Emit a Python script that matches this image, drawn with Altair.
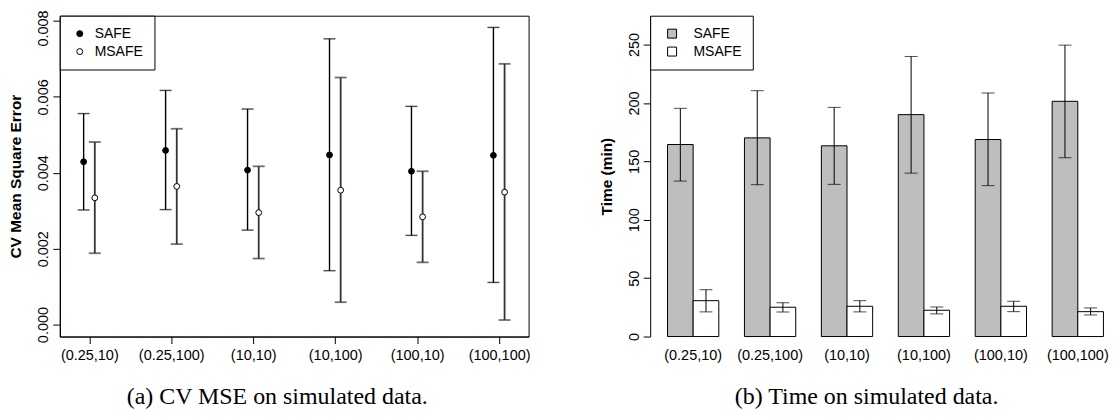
import altair as alt
import pandas as pd

# ---------------- data ----------------
cats = ["(0.25,10)", "(0.25,100)", "(10,10)", "(10,100)", "(100,10)", "(100,100)"]
series = ["SAFE", "MSAFE"]

# (a) CV mean square error: mean, lower, upper
mse_safe = [0.00429, 0.00459, 0.00407, 0.00447, 0.00404, 0.00446]
mse_safe_lo = [0.00302, 0.00303, 0.00249, 0.00142, 0.00235, 0.00111]
mse_safe_hi = [0.00556, 0.00617, 0.00568, 0.00753, 0.00575, 0.00783]
mse_msafe = [0.00334, 0.00364, 0.00295, 0.00354, 0.00284, 0.00349]
mse_msafe_lo = [0.00188, 0.00212, 0.00174, 0.00059, 0.00164, 0.00012]
mse_msafe_hi = [0.00481, 0.00516, 0.00417, 0.00651, 0.00404, 0.00687]

# (b) time in minutes: mean, lower, upper
time_safe = [164.4, 170.1, 163.3, 190.0, 168.7, 201.4]
time_safe_lo = [133.1, 130.0, 130.3, 139.9, 129.2, 153.1]
time_safe_hi = [195.4, 210.5, 196.2, 239.8, 208.5, 249.5]
time_msafe = [30.7, 25.1, 25.9, 22.5, 25.9, 21.3]
time_msafe_lo = [21.1, 21.1, 21.1, 19.4, 21.3, 18.5]
time_msafe_hi = [40.1, 29.0, 30.7, 25.3, 30.2, 24.5]

mse_ticks = [0.0, 0.002, 0.004, 0.006, 0.008]
time_ticks = [0, 50, 100, 150, 200, 250]


def frame(m1, l1, h1, m2, l2, h2):
    rows = []
    for i, c in enumerate(cats):
        rows.append({"cat": c, "series": "SAFE", "mean": m1[i], "lo": l1[i], "hi": h1[i]})
        rows.append({"cat": c, "series": "MSAFE", "mean": m2[i], "lo": l2[i], "hi": h2[i]})
    return pd.DataFrame(rows)


df_mse = frame(mse_safe, mse_safe_lo, mse_safe_hi, mse_msafe, mse_msafe_lo, mse_msafe_hi)
df_time = frame(time_safe, time_safe_lo, time_safe_hi, time_msafe, time_msafe_lo, time_msafe_hi)

FONT = "Liberation Sans"
CAPFONT = "Liberation Serif"
LBL = 14.5

# ---------------- panel (a) ----------------
xa = alt.X(
    "cat:N", sort=cats,
    scale=alt.Scale(type="point", padding=0.36),
    axis=alt.Axis(title=None, labelAngle=0, tickSize=7, labelPadding=5,
                  labelFontSize=LBL, labelOverlap=False),
)


def ya(field):
    return alt.Y(
        f"{field}:Q",
        scale=alt.Scale(domain=[-0.000315, 0.008139], nice=False, zero=False),
        axis=alt.Axis(title="CV Mean Square Error", values=mse_ticks, format=".3f",
                      labelAngle=-90, labelAlign="center", labelBaseline="bottom",
                      labelOffset={"condition": {"test": "datum.value > 0.0075", "value": 7},
                                   "value": 0},
                      tickSize=7, labelPadding=2, titlePadding=12),
    )


fill_a = alt.Fill(
    "series:N",
    scale=alt.Scale(domain=series, range=["black", "white"]),
    legend=alt.Legend(title=None, orient="top-left", offset=0, padding=11,
                      strokeColor="black", fillColor="white", symbolType="circle",
                      symbolSize=36, symbolStrokeColor="black", symbolStrokeWidth=1,
                      labelFontSize=14, rowPadding=4, symbolOffset=2, labelOffset=8),
)

base_a = alt.Chart(df_mse)
layers_a = []
for s, off, col, lw in [("SAFE", -5.7, "black", 1.4), ("MSAFE", 5.5, "#333333", 1.8)]:
    src = base_a.transform_filter(alt.datum.series == s)
    layers_a.append(src.mark_rule(color=col, strokeWidth=lw, xOffset=off)
                    .encode(x=xa, y=ya("lo"), y2="hi:Q"))
    layers_a.append(src.mark_tick(orient="horizontal", size=12, thickness=lw, color=col, xOffset=off)
                    .encode(x=xa, y=ya("lo")))
    layers_a.append(src.mark_tick(orient="horizontal", size=12, thickness=lw, color=col, xOffset=off)
                    .encode(x=xa, y=ya("hi")))
    layers_a.append(src.mark_circle(size=34, stroke="black", strokeWidth=1, opacity=1, xOffset=off)
                    .encode(x=xa, y=ya("mean"), fill=fill_a))

panel_a = alt.layer(*layers_a).properties(
    width=470.5, height=322,
    view=alt.ViewBackground(stroke="black", strokeWidth=1),
    title=alt.TitleParams("(a) CV MSE on simulated data.", orient="bottom", anchor="middle",
                          frame="group", font=CAPFONT, fontSize=24, fontWeight="normal",
                          color="black", offset=23, dx=-17),
)

# ---------------- panel (b) ----------------
xb = alt.X(
    "cat:N", sort=cats,
    scale=alt.Scale(type="band", paddingInner=1 / 3, paddingOuter=0.136, align=0.829),
    axis=alt.Axis(title=None, labelAngle=0, domain=False, tickColor="transparent",
                  tickSize=7, labelPadding=5, labelFontSize=LBL, labelOverlap=False),
)
xob = alt.XOffset("series:N", sort=series,
                  scale=alt.Scale(domain=series, paddingInner=0, paddingOuter=0))


def yb(field):
    return alt.Y(
        f"{field}:Q",
        scale=alt.Scale(domain=[0, 274.7], nice=False, zero=False),
        axis=alt.Axis(title="Time (min)", values=time_ticks, labelAngle=-90,
                      labelAlign="center", labelBaseline="bottom",
                      tickSize=7, labelPadding=2, titlePadding=12),
    )


fill_b = alt.Fill(
    "series:N",
    scale=alt.Scale(domain=series, range=["#bebebe", "white"]),
    legend=alt.Legend(title=None, orient="top-left", offset=0, padding=11,
                      strokeColor="black", fillColor="white", symbolType="square",
                      symbolSize=81, symbolStrokeColor="black", symbolStrokeWidth=1,
                      labelFontSize=14, rowPadding=4, symbolOffset=4, labelOffset=14.5),
)

base_b = alt.Chart(df_time)
bars = base_b.mark_bar(stroke="black", strokeWidth=1).encode(
    x=xb, xOffset=xob, y=yb("mean"), fill=fill_b)
err = base_b.mark_rule(color="black", strokeWidth=1).encode(
    x=xb, xOffset=xob, y=yb("lo"), y2="hi:Q")
cap_lo = base_b.mark_tick(orient="horizontal", size=13, thickness=1, color="black").encode(
    x=xb, xOffset=xob, y=yb("lo"))
cap_hi = base_b.mark_tick(orient="horizontal", size=13, thickness=1, color="black").encode(
    x=xb, xOffset=xob, y=yb("hi"))

panel_b = alt.layer(bars, err, cap_lo, cap_hi).properties(
    width=458.5, height=322,
    view=alt.ViewBackground(stroke="transparent", strokeWidth=0),
    title=alt.TitleParams("(b) Time on simulated data.", orient="bottom", anchor="middle",
                          frame="group", font=CAPFONT, fontSize=24, fontWeight="normal",
                          color="black", offset=23, dx=-12),
)

chart = (
    alt.hconcat(panel_a, panel_b, spacing=121.5, bounds="flush")
    .resolve_scale(x="independent", y="independent", fill="independent", xOffset="independent")
    .resolve_legend(fill="independent")
    .properties(padding={"left": 0, "top": 0, "right": 0, "bottom": 0})
    .configure(background="white")
    .configure_axis(grid=False, labelFont=FONT, titleFont=FONT, labelColor="black",
                    titleColor="black", tickColor="black", domainColor="black",
                    labelFontSize=LBL, titleFontSize=15.5, titleFontWeight="bold")
    .configure_legend(labelFont=FONT, labelColor="black")
)

chart.save("out.html", embed_options={"renderer": "svg", "actions": False})
